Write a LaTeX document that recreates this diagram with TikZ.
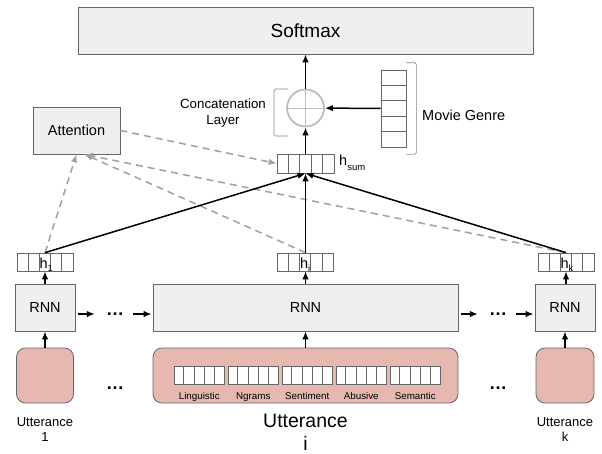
\documentclass[tikz,border=0pt]{standalone}
\usepackage{fontspec}
\setmainfont{Liberation Sans}
\usetikzlibrary{arrows.meta}
\definecolor{boxgray}{HTML}{EFEFEF}
\definecolor{linegray}{HTML}{666666}
\definecolor{utterpink}{HTML}{E6B8AF}
\definecolor{dashgray}{HTML}{A0A0A0}
\definecolor{ringgray}{HTML}{BDBDBD}

\begin{document}
\begin{tikzpicture}[>=latex, x=1pt, y=-1pt,
    block/.style={draw=linegray, fill=boxgray, line width=0.8pt, minimum height=47pt, inner sep=0pt, font=\fontsize{14.5}{17}\selectfont},
    utter/.style={draw=linegray, fill=utterpink, line width=0.8pt, rounded corners=9pt, minimum height=55pt},
    vec/.style={draw=linegray, fill=white, line width=0.7pt, inner sep=0pt},
    cell/.style={linegray, line width=0.7pt},
    flow/.style={-{Latex[length=8pt,width=6.5pt]}, line width=1.5pt},
    attn/.style={-{Latex[length=8pt,width=6.5pt]}, dashgray, dash pattern=on 7pt off 5pt, line width=1.5pt},
    brk/.style={linegray!80, line width=0.7pt, rounded corners=1.5pt},
    txt/.style={inner sep=0pt, align=center, font=\fontsize{14.5}{17}\selectfont},
    hlab/.style={inner sep=0pt, anchor=base west, font=\fontsize{14.5}{15}\selectfont},
    featlab/.style={inner sep=0pt, anchor=base, font=\fontsize{9.8}{10}\selectfont},
    dots/.style={inner sep=0pt, font=\fontsize{18}{18}\selectfont\bfseries}]
    \useasboundingbox (0,0) rectangle (602,453);

    \node[block, minimum width=455pt, font=\fontsize{19}{19}\selectfont] (softmax) at (305.5,30.5) {Softmax};
    \node[block, minimum width=87pt] (attention) at (76.5,130.5) {Attention};
    \node[block, minimum width=60pt] (rnn1) at (45,307.5) {RNN};
    \node[block, minimum width=305pt] (rnni) at (305.5,307.5) {RNN};
    \node[block, minimum width=60pt] (rnnk) at (565,307.5) {RNN};

    \node[utter, minimum width=57pt] (u1) at (45,375.5) {};
    \node[utter, minimum width=305pt] (ui) at (305.5,375.5) {};
    \node[utter, minimum width=58pt] (uk) at (565,375.5) {};

    \foreach \f [count=\j from 0] in {Linguistic, Ngrams, Sentiment, Abusive, Semantic} {
        \node[vec, minimum width=50.5pt, minimum height=18pt] (feat\j) at (199.25+54*\j,375) {};
        \foreach \i in {1,...,4}
            \draw[cell] ([xshift=\i*10.1pt]feat\j.north west) -- ([xshift=\i*10.1pt]feat\j.south west);
        \node[featlab] (featlab\j) at ([yshift=-15pt]feat\j.south) {\f};
    }

    \node[txt, font=\fontsize{13}{15}\selectfont] (ulab1) at (45,430) {Utterance\\1};
    \node[txt, font=\fontsize{19.5}{23}\selectfont] (ulabi) at (305.5,432) {Utterance\\i};
    \node[txt, font=\fontsize{13}{15}\selectfont] (ulabk) at (565,430) {Utterance\\k};

    \foreach \n/\x/\y in {dotsA/115/314, dotsB/115/388, dotsC/498/314, dotsD/498/388}
        \node[dots] (\n) at (\x,\y) {\dots};

    \foreach \n/\x/\s in {h1/45/1, hi/305.5/i, hk/566/k} {
        \node[vec, minimum width=56pt, minimum height=18pt] (\n) at (\x,262) {};
        \foreach \i in {1,...,4}
            \draw[cell] ([xshift=\i*11.2pt]\n.north west) -- ([xshift=\i*11.2pt]\n.south west);
        \node[hlab] (\n lab) at (\x-5.6,268.5) {h\raisebox{-2.5pt}{\fontsize{9}{9}\selectfont\s}};
    }

    \node[vec, minimum width=57pt, minimum height=19pt] (hsum) at (305.5,163.5) {};
    \foreach \i in {1,...,4}
        \draw[cell] ([xshift=\i*11.4pt]hsum.north west) -- ([xshift=\i*11.4pt]hsum.south west);
    \node[hlab] (hsumlab) at (339,165) {h\raisebox{-5pt}{\fontsize{9.5}{9.5}\selectfont sum}};

    \node[vec, minimum width=25pt, minimum height=77pt] (genre) at (393.5,108.5) {};
    \foreach \i in {1,...,4}
        \draw[cell] ([yshift=-\i*15.4pt]genre.north west) -- ([yshift=-\i*15.4pt]genre.north east);
    \draw[brk] ([yshift=7pt]genre.north east) -| ([xshift=10pt,yshift=-7pt]genre.south east) -- ([yshift=-7pt]genre.south east);
    \node[txt, anchor=west] (genrelab) at (422,115) {Movie Genre};

    \node[circle, draw=ringgray, fill=white, line width=1.8pt, minimum size=37pt, inner sep=0pt] (concat) at (305.5,108) {};
    \draw[ringgray, line width=1pt] (concat.north) -- (concat.south) (concat.west) -- (concat.east);
    \draw[brk] (288,89) -| (274,136) -- (288,136);
    \node[txt, font=\fontsize{13.3}{16}\selectfont] (concatlab) at (223,113) {Concatenation\\Layer};

    \draw[attn] (h1.north) -- (attention.south);
    \draw[attn] (hi.north) -- ([xshift=8pt]attention.south);
    \draw[attn] (hk.north) -- ([xshift=8pt]attention.south);
    \draw[attn] (attention.east) -- (hsum.west);

    \draw[flow] (u1) -- (rnn1);
    \draw[flow] (ui) -- (rnni);
    \draw[flow] (uk) -- (rnnk);
    \draw[flow] (rnn1) -- (h1);
    \draw[flow] (rnni) -- (hi);
    \draw[flow] (rnnk.north -| hk) -- (hk);
    \draw[flow, shorten <=3pt, shorten >=11pt] (rnn1.east |- dotsA) -- (dotsA.west);
    \draw[flow, shorten <=9pt, shorten >=1pt] (dotsA.east) -- (rnni.west |- dotsA);
    \draw[flow, shorten <=3pt, shorten >=11pt] (rnni.east |- dotsC) -- (dotsC.west);
    \draw[flow, shorten <=9pt, shorten >=1pt] (dotsC.east) -- (rnnk.west |- dotsC);
    \draw[flow] (h1.north) -- (hsum.south);
    \draw[flow] (hi.north) -- (hsum.south);
    \draw[flow] (hk.north) -- (hsum.south);
    \draw[flow] (hsum) -- (concat);
    \draw[flow] (concat) -- (softmax);
    \draw[flow] (genre) -- (concat);
\end{tikzpicture}
\end{document}
